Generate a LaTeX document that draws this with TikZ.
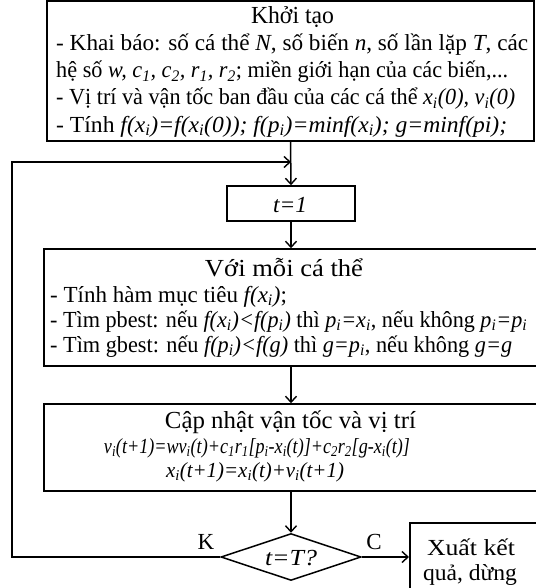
\documentclass[tikz,border=0pt]{standalone}
\usepackage{fontspec}
\usepackage{graphicx}
\setmainfont{Liberation Serif}
\usetikzlibrary{arrows.meta,shapes.geometric}
\newcommand{\sbs}[1]{\textsubscript{#1}}
\newcommand{\fw}[2]{\resizebox{#1}{\height}{#2}}
\begin{document}
\begin{tikzpicture}[x=1pt,y=-1pt,
  box/.style={draw, line width=1.5pt, inner sep=0pt},
  txt/.style={anchor=base west, inner sep=0pt, font=\fontsize{23}{27}\selectfont},
  ctxt/.style={anchor=base, inner sep=0pt, font=\fontsize{23}{27}\selectfont},
  eqn/.style={anchor=base, inner sep=0pt, font=\fontsize{21.5}{27}\selectfont},
  ttl/.style={anchor=base, inner sep=0pt, font=\fontsize{24.5}{27}\selectfont},
  conn/.style={line width=1.5pt},
  arr/.style={conn, -{Straight Barb[length=6pt,width=11pt,line width=1.4pt]}}]
\useasboundingbox (0,0) rectangle (535,588);
% boxes
\node[box, minimum width=487pt, minimum height=140pt] (init) at (290.5,71) {};
\node[box, minimum width=128pt, minimum height=35pt] (t1) at (291,203.5) {};
\node[box, minimum width=494pt, minimum height=117pt] (each) at (291,307.5) {};
\node[box, minimum width=494pt, minimum height=87pt] (upd) at (291,447.5) {};
\node[box, diamond, aspect=3, minimum width=140pt, minimum height=47pt] (dia) at (291,557) {};
\node[box, minimum width=130pt, minimum height=80pt, anchor=north west] (out) at (409,522) {};
% texts
\node[ttl] (i0) at (292.5,24) {\fw{83pt}{Khởi tạo}};
\node[txt] (i1) at (56,51) {\fw{472pt}{- Khai báo: số cá thể \textit{N}, số biến \textit{n}, số lần lặp \textit{T}, các}};
\node[txt] (i2) at (56,78) {\fw{452pt}{hệ số \textit{w, c\sbs{1}, c\sbs{2}, r\sbs{1}, r\sbs{2}}; miền giới hạn của các biến,...}};
\node[txt] (i3) at (56,105) {\fw{459pt}{- Vị trí và vận tốc ban đầu của các cá thể \textit{x\sbs{i}(0), v\sbs{i}(0)}}};
\node[txt] (i4) at (56,132) {\fw{451pt}{- Tính \textit{f(x\sbs{i})=f(x\sbs{i}(0)); f(p\sbs{i})=minf(x\sbs{i}); g=minf(pi);}}};
\node[ctxt] (t1t) at (290,212) {\fw{34pt}{\textit{t=1}}};
\node[ttl] (e0) at (284,276) {\fw{158pt}{Với mỗi cá thể}};
\node[txt] (e1) at (50,302) {- Tính hàm mục tiêu \textit{f(x\sbs{i})};};
\node[txt] (e2) at (50,327) {\fw{477pt}{- Tìm pbest: nếu \textit{f(x\sbs{i})<f(p\sbs{i})} thì \textit{p\sbs{i}=x\sbs{i}}, nếu không \textit{p\sbs{i}=p\sbs{i}}}};
\node[txt] (e3) at (50,352) {\fw{462pt}{- Tìm gbest: nếu \textit{f(p\sbs{i})<f(g)} thì \textit{g=p\sbs{i}}, nếu không \textit{g=g}}};
\node[ttl] (u0) at (290.5,428) {\fw{251pt}{Cập nhật vận tốc và vị trí}};
\node[eqn] (u1) at (257,453) {\fw{306pt}{\textit{v\sbs{i}(t+1)=wv\sbs{i}(t)+c\sbs{1}r\sbs{1}[p\sbs{i}-x\sbs{i}(t)]+c\sbs{2}r\sbs{2}[g-x\sbs{i}(t)]}}};
\node[eqn] (u2) at (255,477) {\fw{178pt}{\textit{x\sbs{i}(t+1)=x\sbs{i}(t)+v\sbs{i}(t+1)}}};
\node[ctxt] (dt) at (291,565) {\fw{52pt}{\textit{t=T?}}};
\node[ctxt] (o1) at (471,555) {\fw{88pt}{Xuất kết}};
\node[ctxt] (o2) at (470,580) {\fw{94pt}{quả, dừng}};
\node[ctxt] (K) at (206,549) {K};
\node[ctxt] (C) at (374,549) {C};
% connectors
\coordinate (lb) at (12,557);
\coordinate (lt) at (12,162);
\coordinate (jn) at (291,162);
\draw[arr] (init.south) -- (t1.north);
\draw[arr] (dia.west) -- (lb) -- (lt) -- (jn);
\draw[arr] (t1.south) -- (each.north);
\draw[arr] (each.south) -- (upd.north);
\draw[arr] (upd.south) -- (dia.north);
\draw[arr] (dia.east) -- (out.west |- dia.east);
\end{tikzpicture}
\end{document}
